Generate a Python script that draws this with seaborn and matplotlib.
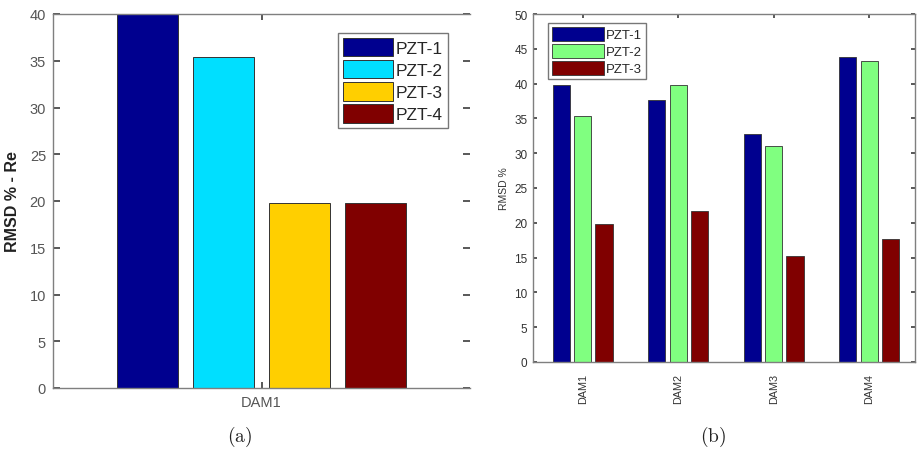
import matplotlib
matplotlib.use("Agg")
import matplotlib.pyplot as plt
import seaborn as sns
import pandas as pd
from matplotlib.patches import Patch

# Panel (a): single damage case, four sensors
dam_a = ["DAM1"]
sensors_a = ["PZT-1", "PZT-2", "PZT-3", "PZT-4"]
rmsd_a = [40.0, 35.4, 19.8, 19.8]
colors_a = ["#00008f", "#00dfff", "#ffcf00", "#800000"]

# Panel (b): four damage cases, three sensors
dams_b = ["DAM1", "DAM2", "DAM3", "DAM4"]
sensors_b = ["PZT-1", "PZT-2", "PZT-3"]
rmsd_b_pzt1 = [39.8, 37.6, 32.7, 43.8]
rmsd_b_pzt2 = [35.4, 39.8, 31.1, 43.2]
rmsd_b_pzt3 = [19.8, 21.7, 15.2, 17.7]
colors_b = ["#00008f", "#80ff80", "#800000"]

sns.set_theme(style="white")
plt.rcParams["font.family"] = ["Liberation Sans", "DejaVu Sans"]
plt.rcParams["mathtext.fontset"] = "cm"

W, H = 918, 452
fig = plt.figure(figsize=(W / 100, H / 100), dpi=100)
fig.patch.set_facecolor("white")


def px_axes(x0, y0, x1, y1):
    return fig.add_axes([x0 / W, 1 - y1 / H, (x1 - x0) / W, (y1 - y0) / H])


spine_col = "#7f7f7f"
tick_col = "#555555"

# ---------- panel (a) ----------
ax1 = px_axes(53, 15, 470, 389)
df_a = pd.DataFrame({"dam": dam_a * len(sensors_a), "sensor": sensors_a, "rmsd": rmsd_a})
sns.barplot(data=df_a, x="dam", y="rmsd", hue="sensor", hue_order=sensors_a,
            palette=colors_a, width=0.8, gap=0.2, edgecolor="#333333",
            linewidth=0.7, saturation=1, legend=False, ax=ax1, errorbar=None)
ax1.set_xlim(-0.55, 0.55)
ax1.set_ylim(0, 40)
ax1.set_yticks(range(0, 41, 5))
ax1.set_xlabel("")
ax1.set_ylabel("RMSD % - Re", fontsize=11.5, fontweight="bold", color="#222222", labelpad=7)
for s in ["left", "top", "bottom"]:
    ax1.spines[s].set_color(spine_col)
    ax1.spines[s].set_linewidth(1.0)
ax1.spines["right"].set_visible(False)
ax1.tick_params(axis="both", which="both", direction="in", length=4, color="#444444",
                labelcolor=tick_col, labelsize=10.5, top=True, right=True, left=True,
                bottom=True, pad=5)
ax1.tick_params(axis="y", which="both", right=True, length=5)
leg1 = ax1.legend(handles=[Patch(facecolor=c, edgecolor="#333333", linewidth=0.7, label=l)
                           for c, l in zip(colors_a, sensors_a)],
                  loc="upper right", bbox_to_anchor=(0.948, 0.95), fontsize=12.5,
                  frameon=True, fancybox=False, edgecolor="#555555",
                  handlelength=2.9, handleheight=1.25, handletextpad=0.15,
                  labelspacing=0.22, borderpad=0.3, borderaxespad=0)
leg1.get_frame().set_linewidth(1.0)

# ---------- panel (b) ----------
ax2 = px_axes(533, 15, 915, 363)
df_b = pd.DataFrame({
    "dam": dams_b * 3,
    "sensor": [sensors_b[0]] * 4 + [sensors_b[1]] * 4 + [sensors_b[2]] * 4,
    "rmsd": rmsd_b_pzt1 + rmsd_b_pzt2 + rmsd_b_pzt3,
})
sns.barplot(data=df_b, x="dam", y="rmsd", hue="sensor", hue_order=sensors_b,
            order=dams_b, palette=colors_b, width=0.67, gap=0.19,
            edgecolor="#333333", linewidth=0.6, saturation=1, legend=False,
            ax=ax2, errorbar=None)
ax2.set_xlim(-0.52, 3.48)
ax2.set_ylim(0, 50)
ax2.set_yticks(range(0, 51, 5))
ax2.set_xlabel("")
ax2.set_ylabel("RMSD %", fontsize=7.5, color="#333333", labelpad=4)
for s in ["left", "top", "bottom", "right"]:
    ax2.spines[s].set_color(spine_col)
    ax2.spines[s].set_linewidth(1.0)
ax2.tick_params(axis="both", which="both", direction="in", length=3, color="#444444",
                labelcolor="#333333", labelsize=8.5, top=True, right=True, left=True,
                bottom=True, pad=4)
ax2.tick_params(axis="x", labelsize=7.8, labelrotation=90, pad=8)
leg2 = ax2.legend(handles=[Patch(facecolor=c, edgecolor="#333333", linewidth=0.6, label=l)
                           for c, l in zip(colors_b, sensors_b)],
                  loc="upper left", bbox_to_anchor=(0.04, 0.975), fontsize=9.5,
                  frameon=True, fancybox=False, edgecolor="#555555",
                  handlelength=3.9, handleheight=1.25, handletextpad=0.2,
                  labelspacing=0.2, borderpad=0.3, borderaxespad=0)
leg2.get_frame().set_linewidth(1.0)

# sub-figure captions
fig.text(240 / W, 1 - 437 / H, r"$\mathrm{(a)}$", ha="center", va="center", fontsize=14, color="#222222")
fig.text(713 / W, 1 - 437 / H, r"$\mathrm{(b)}$", ha="center", va="center", fontsize=14, color="#222222")

fig.savefig("out.png", dpi=100, facecolor="white")
